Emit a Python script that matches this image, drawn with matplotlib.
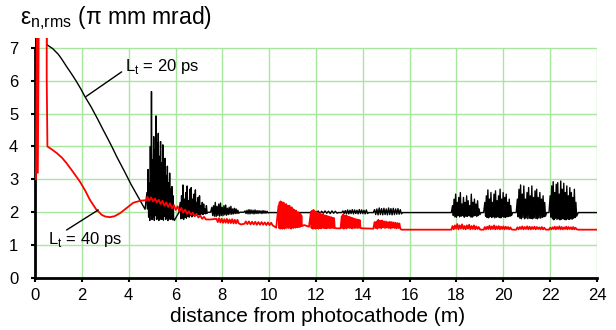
import numpy as np
import matplotlib
matplotlib.use("Agg")
import matplotlib.pyplot as plt

plt.rcParams['font.family'] = ['Liberation Sans', 'DejaVu Sans']

# ---- data ----
# L_t = 20 ps (black): smooth start, then bursts of spikes with flat parts between
black_head_x = [0.02, 0.03, 0.5, 0.5, 0.75, 1.0, 1.15, 1.35, 1.55, 1.75, 1.95, 2.13, 2.4,
                2.7, 2.9, 3.1, 3.3, 3.49, 3.8, 4.1, 4.4, 4.7]
black_head_y = [3.0, 7.6, 7.6, 7.1, 6.98, 6.8, 6.65, 6.43, 6.22, 6.0, 5.76, 5.52, 5.2,
                4.8, 4.52, 4.25, 3.97, 3.69, 3.27, 2.85, 2.47, 2.09]

# (start, end, peaks, troughs)
black_bursts = [
    (4.78, 5.92,
     [2.6, 3.3, 2.9, 4.0, 5.67, 3.6, 4.3, 3.9, 4.93, 4.1, 4.4, 3.7, 4.15, 3.5, 4.05, 3.3,
      3.64, 3.1, 3.4, 2.9, 3.19, 2.7, 2.78, 2.5],
     [2.1, 1.85, 1.75, 1.9, 1.78, 1.85, 1.75, 1.9, 1.78, 1.8, 1.75, 1.85, 1.78, 1.8, 1.76,
      1.88, 1.78, 1.82, 1.75, 1.85, 1.78, 1.8, 1.77, 1.82]),
    (6.2, 7.35,
     [2.3, 2.5, 2.83, 2.4, 2.6, 2.8, 2.35, 2.7, 2.75, 2.4, 2.55, 2.68, 2.3, 2.45, 2.5, 2.2,
      2.3, 2.25, 2.1, 2.2],
     [1.8, 1.82, 1.78, 1.85, 1.82, 1.88, 1.85, 1.9, 1.86, 1.9, 1.88, 1.92, 1.9, 1.93, 1.92,
      1.95, 1.93, 1.96, 1.95, 1.97]),
    (7.55, 8.7,
     [2.15, 2.2, 2.3, 2.18, 2.25, 2.28, 2.15, 2.2, 2.22, 2.12, 2.15, 2.18, 2.1, 2.12, 2.1, 2.06],
     [1.9, 1.88, 1.87, 1.9, 1.88, 1.9, 1.9, 1.92, 1.91, 1.93, 1.94, 1.94, 1.95, 1.96, 1.96, 1.97]),
    (8.97, 9.95,
     [2.04, 2.06, 2.08, 2.07, 2.06, 2.07, 2.05, 2.05, 2.04, 2.05, 2.04, 2.03],
     [1.96, 1.95, 1.95, 1.96, 1.95, 1.96, 1.96, 1.97, 1.96, 1.97, 1.97, 1.98]),
    (11.8, 12.9,
     [2.02, 2.03, 2.04, 2.03, 2.04, 2.03, 2.04, 2.03],
     [1.97, 1.97, 1.96, 1.97, 1.97, 1.96, 1.97, 1.97]),
    (13.15, 14.2,
     [2.04, 2.05, 2.07, 2.06, 2.08, 2.07, 2.06, 2.08, 2.07, 2.06, 2.07],
     [1.96, 1.95, 1.95, 1.96, 1.95, 1.96, 1.95, 1.96, 1.96, 1.95, 1.96]),
    (14.5, 15.65,
     [2.08, 2.1, 2.13, 2.11, 2.12, 2.1, 2.13, 2.11, 2.12, 2.1, 2.11, 2.08],
     [1.93, 1.92, 1.93, 1.92, 1.93, 1.92, 1.93, 1.92, 1.93, 1.94, 1.94, 1.95]),
    (17.83, 19.0,
     [2.2, 2.4, 2.55, 2.3, 2.45, 2.6, 2.25, 2.45, 2.3, 2.5, 2.35, 2.2, 2.55, 2.3, 2.4, 2.25,
      2.35, 2.1],
     [1.9, 1.86, 1.85, 1.9, 1.86, 1.88, 1.9, 1.85, 1.88, 1.87, 1.9, 1.86, 1.85, 1.88, 1.9,
      1.87, 1.9, 1.93]),
    (19.21, 20.35,
     [2.3, 2.5, 2.68, 2.4, 2.6, 2.3, 2.55, 2.65, 2.35, 2.5, 2.7, 2.4, 2.6, 2.45, 2.55, 2.3,
      2.4, 2.2],
     [1.88, 1.84, 1.83, 1.87, 1.84, 1.86, 1.83, 1.85, 1.86, 1.84, 1.83, 1.87, 1.85, 1.84,
      1.86, 1.87, 1.88, 1.9]),
    (20.6, 21.8,
     [2.4, 2.7, 2.83, 2.55, 2.8, 2.4, 2.6, 2.75, 2.5, 2.8, 2.45, 2.65, 2.7, 2.45, 2.6, 2.4,
      2.5, 2.3],
     [1.86, 1.82, 1.8, 1.84, 1.8, 1.83, 1.8, 1.82, 1.81, 1.8, 1.83, 1.81, 1.8, 1.83, 1.82,
      1.84, 1.86, 1.88]),
    (22.0, 23.13,
     [2.5, 2.8, 2.93, 2.6, 2.85, 2.9, 2.55, 2.95, 2.7, 2.88, 2.6, 2.8, 2.5, 2.75, 2.6, 2.45,
      2.7, 2.3],
     [1.85, 1.8, 1.77, 1.82, 1.78, 1.8, 1.77, 1.79, 1.8, 1.78, 1.77, 1.8, 1.78, 1.8, 1.79,
      1.82, 1.84, 1.88]),
]
# flat pieces after each burst
black_gap_x = [[5.95, 6.15], [7.4, 7.5], [8.75, 8.92], [10.0, 11.75], [12.95, 13.1],
               [14.25, 14.45], [15.7, 17.78], [19.05, 19.16], [20.4, 20.55],
               [21.85, 21.95], [23.2, 24.0]]
black_gap_y = [[1.75, 2.0], [2.0, 2.0], [2.0, 2.0], [1.99, 1.99], [1.99, 1.99],
               [1.99, 1.99], [1.99, 1.99], [1.99, 1.99], [1.99, 1.99],
               [1.99, 1.99], [1.99, 1.99]]

# L_t = 40 ps (red)
red_head_x = [0.04, 0.08, 0.12, 0.16, 0.5, 0.5, 0.53, 0.7, 0.93, 1.15, 1.35, 1.6, 1.92,
              2.15, 2.35, 2.6, 2.85, 3.0, 3.2, 3.4, 3.63, 3.9, 4.2, 4.5, 4.77]
red_head_y = [3.0, 7.6, 3.2, 7.6, 7.6, 6.1, 4.0, 3.92, 3.8, 3.66, 3.49, 3.25, 2.93,
              2.65, 2.37, 2.1, 1.92, 1.87, 1.85, 1.88, 1.97, 2.12, 2.29, 2.35, 2.37]

red_bursts = [
    (4.8, 7.3,
     [2.47, 2.45, 2.42, 2.38, 2.35, 2.3, 2.27, 2.22, 2.18, 2.13, 2.08, 2.03, 1.99, 1.95, 1.9, 1.86],
     [2.35, 2.33, 2.3, 2.25, 2.2, 2.16, 2.12, 2.07, 2.03, 1.99, 1.95, 1.92, 1.88, 1.84, 1.8, 1.78]),
    (7.75, 8.7,
     [1.8, 1.82, 1.8, 1.79, 1.8, 1.78, 1.79, 1.77, 1.77],
     [1.7, 1.69, 1.68, 1.68, 1.67, 1.67, 1.66, 1.66, 1.66]),
    (9.0, 10.15,
     [1.72, 1.72, 1.71, 1.71, 1.7, 1.7, 1.69, 1.69, 1.68],
     [1.64, 1.63, 1.63, 1.62, 1.62, 1.62, 1.61, 1.61, 1.6]),
    (10.4, 11.4,
     [2.2, 2.3, 2.33, 2.25, 2.3, 2.28, 2.22, 2.25, 2.2, 2.18, 2.2, 2.12, 2.15, 2.1, 2.08,
      2.05, 2.05, 2.0, 2.0, 1.97, 1.95, 1.9],
     [1.52, 1.5, 1.55, 1.5, 1.53, 1.5, 1.55, 1.52, 1.55, 1.52, 1.56, 1.5, 1.54, 1.52, 1.55,
      1.53, 1.56, 1.54, 1.57, 1.55, 1.58, 1.58]),
    (11.78, 12.8,
     [1.98, 2.05, 2.07, 2.0, 2.02, 1.98, 1.95, 1.97, 1.92, 1.93, 1.9, 1.9, 1.88, 1.87, 1.85,
      1.85, 1.83, 1.82],
     [1.52, 1.5, 1.52, 1.5, 1.53, 1.5, 1.52, 1.51, 1.53, 1.52, 1.52, 1.51, 1.53, 1.52, 1.52,
      1.53, 1.52, 1.52]),
    (13.1, 13.9,
     [1.88, 1.93, 1.9, 1.9, 1.88, 1.86, 1.85, 1.83, 1.82, 1.8, 1.79, 1.78, 1.77, 1.76],
     [1.52, 1.5, 1.53, 1.51, 1.54, 1.52, 1.53, 1.51, 1.53, 1.52, 1.53, 1.52, 1.53, 1.52]),
    (14.5, 15.6,
     [1.7, 1.72, 1.77, 1.74, 1.75, 1.72, 1.72, 1.7, 1.71, 1.7, 1.69, 1.68, 1.67, 1.66],
     [1.52, 1.5, 1.53, 1.51, 1.54, 1.52, 1.53, 1.52, 1.51, 1.53, 1.52, 1.51, 1.52, 1.5]),
    (17.83, 19.0,
     [1.58, 1.6, 1.64, 1.6, 1.63, 1.58, 1.6, 1.62, 1.58, 1.6, 1.57, 1.55],
     [1.48, 1.5, 1.48, 1.5, 1.49, 1.48, 1.5, 1.48, 1.49, 1.48, 1.49, 1.48]),
    (19.21, 20.35,
     [1.55, 1.56, 1.59, 1.57, 1.6, 1.57, 1.58, 1.56, 1.57, 1.56, 1.55, 1.54],
     [1.48, 1.49, 1.48, 1.49, 1.48, 1.49, 1.48, 1.49, 1.48, 1.49, 1.48, 1.48]),
    (20.6, 21.8,
     [1.54, 1.55, 1.57, 1.55, 1.57, 1.56, 1.55, 1.56, 1.55, 1.54, 1.55, 1.53],
     [1.48, 1.49, 1.48, 1.49, 1.48, 1.48, 1.49, 1.48, 1.49, 1.48, 1.48, 1.48]),
    (22.0, 23.13,
     [1.53, 1.54, 1.56, 1.55, 1.57, 1.55, 1.54, 1.56, 1.55, 1.54, 1.55, 1.53],
     [1.48, 1.49, 1.48, 1.49, 1.48, 1.48, 1.49, 1.48, 1.49, 1.48, 1.48, 1.48]),
]
red_gap_x = [[7.5], [8.8, 8.95], [10.3], [11.5, 11.7], [12.9, 13.05], [14.0, 14.45],
             [15.65, 17.78], [19.05, 19.16], [20.4, 20.55], [21.85, 21.95], [23.2, 24.0]]
red_gap_y = [[1.78], [1.63, 1.65], [1.53], [1.61, 1.56], [1.51, 1.51], [1.51, 1.5],
             [1.47, 1.47], [1.47, 1.47], [1.47, 1.47], [1.47, 1.47], [1.47, 1.47]]


def build_series(head_x, head_y, bursts, gap_x, gap_y):
    """Join the smooth start, the spike bursts and the flat pieces into one line."""
    xs = list(head_x)
    ys = list(head_y)
    for (x0, x1, peaks, troughs), gx, gy in zip(bursts, gap_x, gap_y):
        zig = []
        for p, t in zip(peaks, troughs):
            zig += [p, t]
        xs += list(np.linspace(x0, x1, len(zig)))
        ys += zig
        xs += gx
        ys += gy
    return np.array(xs), np.array(ys)


bx, by = build_series(black_head_x, black_head_y, black_bursts, black_gap_x, black_gap_y)
rx, ry = build_series(red_head_x, red_head_y, red_bursts, red_gap_x, red_gap_y)

# ---- figure ----
fig = plt.figure(figsize=(6.16, 3.30), dpi=100)
ax = fig.add_axes([35 / 616, 1 - 278 / 330, (597 - 35) / 616, (278 - 38) / 330])

grid_color = '#a8e6a0'
ax.hlines(range(1, 8), 0, 24, color=grid_color, lw=1, zorder=0)
ax.vlines(range(2, 25, 2), 0, 7, color=grid_color, lw=1, zorder=0)

ax.plot(bx, by, color='black', lw=1.0, zorder=2)
ax.plot(rx, ry, color='#ff0000', lw=1.3, zorder=3)

ax.set_xlim(0, 24)
ax.set_ylim(0, 7.3)
ax.set_xticks(range(0, 25, 2))
ax.set_yticks(range(0, 8))
for s in ['top', 'right']:
    ax.spines[s].set_visible(False)
for s in ['left', 'bottom']:
    ax.spines[s].set_linewidth(2)
ax.spines['left'].set_bounds(0, 7)
ax.tick_params(axis='both', direction='out', length=3, width=1.5, labelsize=12)
ax.tick_params(axis='y', pad=9)
ax.tick_params(axis='x', pad=4)

# curve labels with leader lines
ax.text(3.84, 6.42, r'L$_\mathregular{t}$ = 20 ps', fontsize=12, ha='left', va='center')
ax.annotate('', xy=(2.18, 5.52), xytext=(3.7, 6.27),
            arrowprops=dict(arrowstyle='-', color='black', lw=1, shrinkA=0, shrinkB=0))
ax.text(0.57, 1.16, r'L$_\mathregular{t}$ = 40 ps', fontsize=12, ha='left', va='center')
ax.annotate('', xy=(2.7, 2.07), xytext=(1.35, 1.46),
            arrowprops=dict(arrowstyle='-', color='black', lw=1, shrinkA=0, shrinkB=0))

fig.text(20 / 616, 1 - 18 / 330, r'ε$_\mathregular{n{,}rms}$ (π mm mrad)', fontsize=16.5,
         ha='left', va='center')
fig.text(318 / 616, 1 - 317 / 330, 'distance from photocathode (m)', fontsize=15,
         ha='center', va='center')

fig.savefig('out.png', dpi=100)
